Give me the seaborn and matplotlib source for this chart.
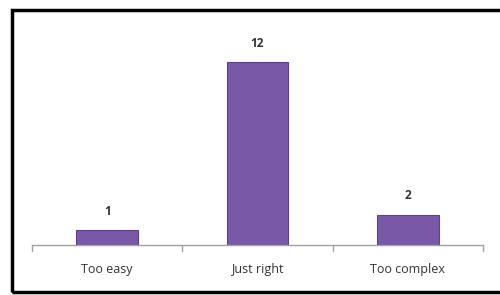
import matplotlib
matplotlib.use("Agg")
import matplotlib.pyplot as plt
import matplotlib.patches as mpatches
import seaborn as sns
import pandas as pd

categories = ["Too easy", "Just right", "Too complex"]
counts = [1, 12, 2]

sns.set_style("white")
plt.rcParams['font.family'] = ['Open Sans', 'DejaVu Sans']

df = pd.DataFrame({"category": categories, "count": counts})

fig = plt.figure(figsize=(5.0, 2.95), dpi=100)
W, H = 500, 295
ax = fig.add_axes([32 / W, 50 / H, (483 - 32) / W, (245 - 20) / H])

sns.barplot(data=df, x="category", y="count", color="#7a58a8", width=0.41,
            edgecolor="#5e4189", linewidth=0.8, saturation=1, ax=ax)

ax.set_ylim(0, 225 / 15.25)
ax.set_xlim(-0.5, 2.5)
ax.set_xlabel("")
ax.set_ylabel("")
ax.set_yticks([])
for s in ["top", "right", "left"]:
    ax.spines[s].set_visible(False)
ax.spines["bottom"].set_color("#a0a0a0")
ax.spines["bottom"].set_linewidth(1.0)

ax.set_xticks([0, 1, 2])
ax.set_xticklabels(categories, fontsize=9, color="#333333")
ax.tick_params(axis="x", length=0, pad=13)
for xb in [-0.5, 0.5, 1.5, 2.5]:
    ax.plot([xb, xb], [0, -0.4], color="#a0a0a0", lw=1.0, clip_on=False)

for i, v in enumerate(counts):
    ax.text(i, v + 0.8, str(v), ha="center", va="bottom", fontsize=8.5,
            fontweight="bold", color="#333333")

# outer black frame
frame = mpatches.Rectangle((11.5 / W, (295 - 292) / H), 1.0, (292 - 10) / H,
                           transform=fig.transFigure, fill=False,
                           edgecolor="black", linewidth=2.5)
fig.patches.append(frame)

fig.savefig("out.png", dpi=100)
